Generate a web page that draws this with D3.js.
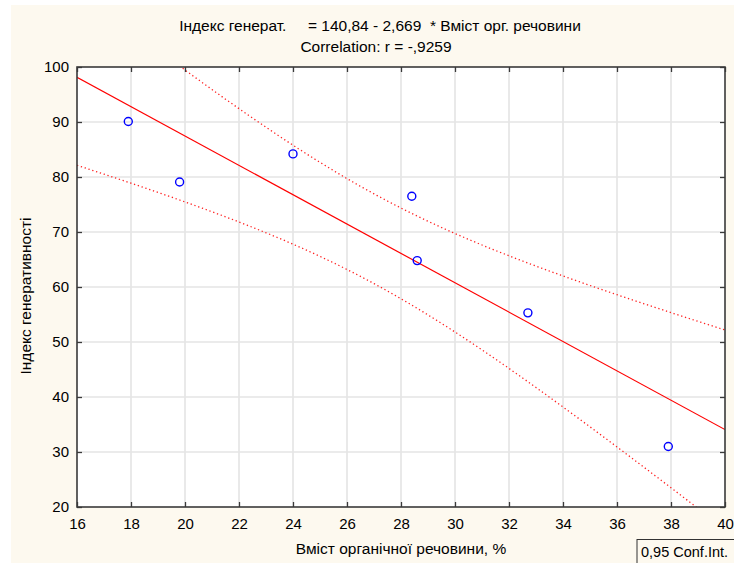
<!DOCTYPE html>
<html lang="uk">
<head>
<meta charset="UTF-8">
<title>Індекс генеративності</title>
<script src="https://cdnjs.cloudflare.com/ajax/libs/d3/7.8.5/d3.min.js"></script>
<style>
    body { margin: 0; background: #ffffff; }
    svg { display: block; font-family: "Liberation Sans", Arial, sans-serif; }
    .tick text { font-size: 15px; fill: #000; }
    .grid line { stroke: #e4e4e4; stroke-width: 1.6; }
</style>
</head>
<body>
<svg id="chart"></svg>
<script>
    const width = 734;
    const height = 563;

    // data
    const organic = [17.9, 19.8, 24.0, 28.4, 28.6, 32.7, 37.9];
    const genIndex = [90.1, 79.1, 84.2, 76.5, 64.8, 55.3, 31.0];
    const intercept = 140.84;
    const slope = -2.669;
    const xTicks = [16, 18, 20, 22, 24, 26, 28, 30, 32, 34, 36, 38, 40];
    const yTicks = [20, 30, 40, 50, 60, 70, 80, 90, 100];

    const plotLeft = 77, plotRight = 725, plotTop = 67, plotBottom = 507;

    const svg = d3.select("#chart").attr("width", width).attr("height", height);

    svg.append("rect")
        .attr("x", 11).attr("y", 5)
        .attr("width", width - 11).attr("height", height - 5)
        .attr("fill", "#fdf9ef");

    let x = d3.scaleLinear().domain([16, 40]).range([plotLeft, plotRight]);
    let y = d3.scaleLinear().domain([20, 100]).range([plotBottom, plotTop]);

    svg.append("rect")
        .attr("x", plotLeft).attr("y", plotTop)
        .attr("width", plotRight - plotLeft).attr("height", plotBottom - plotTop)
        .attr("fill", "#ffffff");

    // grid
    svg.append("g").attr("class", "grid")
        .selectAll("line")
        .data(xTicks.slice(1, -1))
        .join("line")
        .attr("x1", d => x(d)).attr("x2", d => x(d))
        .attr("y1", plotTop).attr("y2", plotBottom);

    svg.append("g").attr("class", "grid")
        .selectAll("line")
        .data(yTicks.slice(1, -1))
        .join("line")
        .attr("y1", d => y(d)).attr("y2", d => y(d))
        .attr("x1", plotLeft).attr("x2", plotRight);

    // confidence band (95%, t with 5 df)
    const n = organic.length;
    const meanX = d3.mean(organic);
    const sxx = d3.sum(organic, v => (v - meanX) ** 2);
    const sse = d3.sum(organic, (v, i) => (genIndex[i] - (intercept + slope * v)) ** 2);
    const s = Math.sqrt(sse / (n - 2));
    const tval = 2.5706;

    const xs = d3.range(16, 40.001, 0.1);
    const band = sign => xs.map(v => [v, intercept + slope * v + sign * tval * s * Math.sqrt(1 / n + (v - meanX) ** 2 / sxx)]);

    svg.append("clipPath").attr("id", "plot-clip")
        .append("rect")
        .attr("x", plotLeft).attr("y", plotTop)
        .attr("width", plotRight - plotLeft).attr("height", plotBottom - plotTop);

    const plot = svg.append("g").attr("clip-path", "url(#plot-clip)");
    const line = d3.line().x(d => x(d[0])).y(d => y(d[1]));

    [1, -1].forEach(sign => {
        plot.append("path")
            .attr("d", line(band(sign)))
            .attr("fill", "none")
            .attr("stroke", "#ff2020")
            .attr("stroke-width", 1.3)
            .attr("stroke-dasharray", "1.3,2.7");
    });

    plot.append("line")
        .attr("x1", x(16)).attr("y1", y(intercept + slope * 16))
        .attr("x2", x(40)).attr("y2", y(intercept + slope * 40))
        .attr("stroke", "#ff0000")
        .attr("stroke-width", 1.2);

    plot.selectAll("circle")
        .data(organic)
        .join("circle")
        .attr("cx", d => x(d))
        .attr("cy", (d, i) => y(genIndex[i]))
        .attr("r", 4)
        .attr("fill", "none")
        .attr("stroke", "#0000ff")
        .attr("stroke-width", 1.4);

    // axes
    const axisColor = "#3a3a3a";
    function styleAxis(g) {
        g.select(".domain").remove();
        g.selectAll(".tick line").attr("stroke", axisColor).attr("stroke-width", 1.3);
    }

    svg.append("g")
        .attr("transform", "translate(0," + plotBottom + ")")
        .call(d3.axisBottom(x).tickValues(xTicks).tickSizeInner(-5).tickSizeOuter(0).tickPadding(11))
        .call(styleAxis);

    svg.append("g")
        .attr("transform", "translate(0," + plotTop + ")")
        .call(d3.axisTop(x).tickValues(xTicks).tickSizeInner(-5).tickSizeOuter(0).tickFormat(""))
        .call(styleAxis);

    svg.append("g")
        .attr("transform", "translate(" + plotLeft + ",0)")
        .call(d3.axisLeft(y).tickValues(yTicks).tickSizeInner(-5).tickSizeOuter(0).tickPadding(8))
        .call(styleAxis);

    svg.append("g")
        .attr("transform", "translate(" + plotRight + ",0)")
        .call(d3.axisRight(y).tickValues(yTicks).tickSizeInner(-5).tickSizeOuter(0).tickFormat(""))
        .call(styleAxis);

    svg.append("rect")
        .attr("x", plotLeft).attr("y", plotTop)
        .attr("width", plotRight - plotLeft).attr("height", plotBottom - plotTop)
        .attr("fill", "none")
        .attr("stroke", axisColor)
        .attr("stroke-width", 1.6);

    // titles
    svg.append("text")
        .attr("x", 380).attr("y", 31)
        .attr("text-anchor", "middle")
        .attr("font-size", 15.5)
        .style("white-space", "pre")
        .text("Індекс генерат.     = 140,84 - 2,669  * Вміст орг. речовини");

    svg.append("text")
        .attr("x", 376).attr("y", 52)
        .attr("text-anchor", "middle")
        .attr("font-size", 15.5)
        .text("Correlation: r = -,9259");

    svg.append("text")
        .attr("x", 401).attr("y", 554)
        .attr("text-anchor", "middle")
        .attr("font-size", 15.5)
        .text("Вміст органічної речовини, %");

    svg.append("text")
        .attr("transform", "translate(31,296) rotate(-90)")
        .attr("text-anchor", "middle")
        .attr("font-size", 15.5)
        .text("Індекс генеративності");

    // legend box
    svg.append("rect")
        .attr("x", 637).attr("y", 539.5)
        .attr("width", 110).attr("height", 30)
        .attr("fill", "none")
        .attr("stroke", "#333")
        .attr("stroke-width", 1);

    svg.append("text")
        .attr("x", 641).attr("y", 557)
        .attr("font-size", 14.5)
        .text("0,95 Conf.Int.");
</script>
</body>
</html>
